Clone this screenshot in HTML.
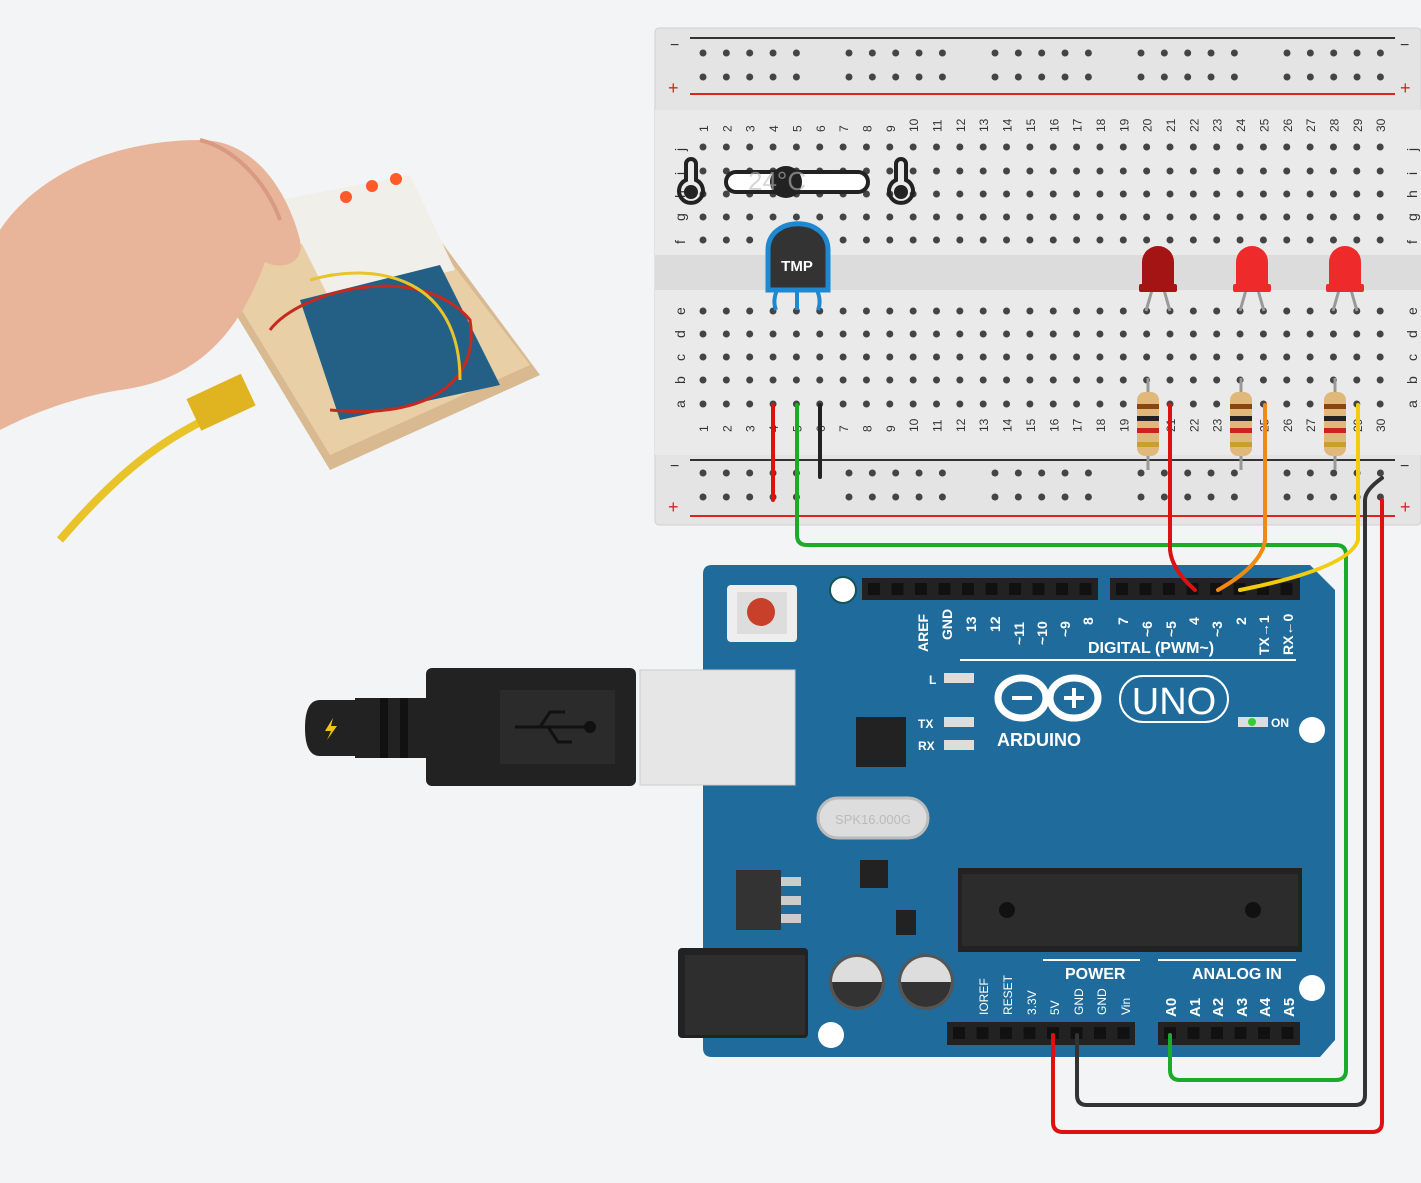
<!DOCTYPE html>
<html><head><meta charset="utf-8"><style>
html,body{margin:0;padding:0;background:#f3f4f6;}
svg{display:block;font-family:"Liberation Sans",sans-serif;}
</style></head><body>
<svg id="s" width="1421" height="1183" viewBox="0 0 1421 1183" xmlns="http://www.w3.org/2000/svg">
<rect width="1421" height="1183" fill="#f3f4f6"/>
<!-- photo approximation -->
<g>
<polygon points="200,255 440,240 540,375 330,470" fill="#d9b98f"/>
<polygon points="205,250 430,235 530,365 330,455" fill="#e8cfa6"/>
<polygon points="280,200 410,175 455,270 330,300" fill="#f0efe9"/>
<polygon points="300,300 440,265 500,385 340,420" fill="#245f86"/>
<path d="M60,540 C120,470 170,430 250,400" stroke="#e8c42a" stroke-width="8" fill="none"/>
<rect x="190" y="385" width="60" height="35" fill="#e0b320" transform="rotate(-25 220 400)"/>
<path d="M270,330 C300,290 420,260 470,320 C480,380 430,420 330,410" stroke="#c62a1e" stroke-width="3" fill="none"/>
<path d="M310,280 C380,260 460,280 460,380" stroke="#e8c42a" stroke-width="3" fill="none"/>
<circle cx="346" cy="197" r="6" fill="#ff5a2a"/><circle cx="372" cy="186" r="6" fill="#ff5a2a"/><circle cx="396" cy="179" r="6" fill="#ff5a2a"/>
<path d="M0,230 C40,170 120,140 200,140 C260,140 290,200 300,240 C305,265 280,270 265,262 C240,330 200,380 120,390 C60,400 20,420 0,430 Z" fill="#e9b59a"/>
<path d="M200,140 C240,150 270,190 280,220" stroke="#d89a80" stroke-width="4" fill="none"/>
</g>
<!-- breadboard -->
<rect x="655" y="28" width="766" height="497" rx="4" fill="#e4e4e4" stroke="#d0d0d0"/>
<rect x="655" y="110" width="766" height="345" fill="#eaeaea"/>
<rect x="655" y="255" width="766" height="35" fill="#dcdcdc"/>
<line x1="690" y1="38" x2="1395" y2="38" stroke="#333" stroke-width="2"/>
<line x1="690" y1="94" x2="1395" y2="94" stroke="#d22" stroke-width="2"/>
<line x1="690" y1="460" x2="1395" y2="460" stroke="#333" stroke-width="2"/>
<line x1="690" y1="516" x2="1395" y2="516" stroke="#d22" stroke-width="2"/>
<text x="670" y="50" font-size="16" fill="#333">−</text><text x="668" y="94" font-size="18" fill="#d22">+</text>
<text x="1400" y="50" font-size="16" fill="#333">−</text><text x="1400" y="94" font-size="18" fill="#d22">+</text>
<text x="670" y="471" font-size="16" fill="#333">−</text><text x="668" y="513" font-size="18" fill="#d22">+</text>
<text x="1400" y="471" font-size="16" fill="#333">−</text><text x="1400" y="513" font-size="18" fill="#d22">+</text>
<g id="holes"></g>
<!-- temp slider -->
<rect x="726" y="172" width="142" height="20" rx="10" fill="#fff" stroke="#222" stroke-width="4"/>
<circle cx="786" cy="182" r="16" fill="#222"/>
<text x="748" y="190" font-size="26" fill="#bbb" opacity="0.6">24°C</text>
<g fill="none" stroke="#222" stroke-width="4"><path d="M686,180 V164 a5,5 0 0 1 10,0 V180 a12,12 0 1 1 -10,0 Z"/><path d="M896,180 V164 a5,5 0 0 1 10,0 V180 a12,12 0 1 1 -10,0 Z"/></g>
<circle cx="691" cy="192" r="7" fill="#222"/><circle cx="901" cy="192" r="7" fill="#222"/>
<!-- TMP -->
<g stroke="#1e88d0" stroke-width="4" fill="none"><path d="M778,288 Q772,300 776,310"/><path d="M797,288 V310"/><path d="M816,288 Q822,300 818,310"/></g>
<path d="M768,250 C768,215 828,215 828,250 V290 H768 Z" fill="#333" stroke="#1e88d0" stroke-width="5"/>
<text x="797" y="271" font-size="15" fill="#fff" text-anchor="middle" font-weight="bold">TMP</text>
<!-- LEDs -->
<g id="leds"></g>
<!-- arduino -->
<path d="M712,565 H1310 L1335,590 V1040 L1320,1057 H712 Q703,1057 703,1048 V574 Q703,565 712,565 Z" fill="#1f6c9c"/>
<circle cx="843" cy="590" r="13" fill="#fff" stroke="#155" stroke-width="2"/>
<circle cx="1312" cy="730" r="13" fill="#fff"/><circle cx="1312" cy="988" r="13" fill="#fff"/><circle cx="831" cy="1035" r="13" fill="#fff"/>
<rect x="727" y="585" width="70" height="57" rx="4" fill="#eee"/><rect x="737" y="592" width="50" height="42" fill="#ddd"/><circle cx="761" cy="612" r="14" fill="#c8402a"/>
<rect x="862" y="578" width="236" height="22" fill="#222"/><rect x="1110" y="578" width="190" height="22" fill="#222"/>
<rect x="947" y="1022" width="188" height="23" fill="#222"/><rect x="1158" y="1022" width="142" height="23" fill="#222"/>
<g id="pins"></g>
<g fill="#fff" font-size="14" font-weight="bold">
<text transform="translate(928,652) rotate(-90)">AREF</text>
<text transform="translate(952,640) rotate(-90)">GND</text>
<text transform="translate(976,632) rotate(-90)">13</text>
<text transform="translate(1000,632) rotate(-90)">12</text>
<text transform="translate(1024,645) rotate(-90)">~11</text>
<text transform="translate(1047,645) rotate(-90)">~10</text>
<text transform="translate(1070,637) rotate(-90)">~9</text>
<text transform="translate(1093,625) rotate(-90)">8</text>
<text transform="translate(1128,625) rotate(-90)">7</text>
<text transform="translate(1152,637) rotate(-90)">~6</text>
<text transform="translate(1176,637) rotate(-90)">~5</text>
<text transform="translate(1199,625) rotate(-90)">4</text>
<text transform="translate(1222,637) rotate(-90)">~3</text>
<text transform="translate(1246,625) rotate(-90)">2</text>
<text transform="translate(1269,655) rotate(-90)">TX→1</text>
<text transform="translate(1293,655) rotate(-90)">RX←0</text>
<text x="1088" y="653" font-size="16">DIGITAL (PWM~)</text>
<text x="997" y="746" font-size="18">ARDUINO</text>
<text x="929" y="684" font-size="12">L</text><text x="918" y="728" font-size="12">TX</text><text x="918" y="750" font-size="12">RX</text>
<text x="1271" y="727" font-size="12">ON</text>
<text x="1065" y="979" font-size="16">POWER</text><text x="1192" y="979" font-size="16">ANALOG IN</text>
</g>
<line x1="960" y1="660" x2="1296" y2="660" stroke="#fff" stroke-width="2"/>
<line x1="1043" y1="960" x2="1140" y2="960" stroke="#fff" stroke-width="2"/>
<line x1="1158" y1="960" x2="1296" y2="960" stroke="#fff" stroke-width="2"/>
<g fill="#fff" font-size="12">
<text transform="translate(988,1015) rotate(-90)">IOREF</text>
<text transform="translate(1012,1015) rotate(-90)">RESET</text>
<text transform="translate(1036,1015) rotate(-90)">3.3V</text>
<text transform="translate(1059,1015) rotate(-90)">5V</text>
<text transform="translate(1083,1015) rotate(-90)">GND</text>
<text transform="translate(1106,1015) rotate(-90)">GND</text>
<text transform="translate(1130,1015) rotate(-90)">Vin</text>
</g>
<g fill="#fff" font-size="15" font-weight="bold">
<text transform="translate(1176,1017) rotate(-90)">A0</text><text transform="translate(1200,1017) rotate(-90)">A1</text><text transform="translate(1223,1017) rotate(-90)">A2</text>
<text transform="translate(1247,1017) rotate(-90)">A3</text><text transform="translate(1270,1017) rotate(-90)">A4</text><text transform="translate(1294,1017) rotate(-90)">A5</text>
</g>
<!-- logo -->
<g fill="none" stroke="#fff" stroke-width="7"><ellipse cx="1022" cy="698" rx="24" ry="20"/><ellipse cx="1074" cy="698" rx="24" ry="20"/></g>
<rect x="1012" y="696" width="20" height="4" fill="#fff"/><rect x="1064" y="696" width="20" height="4" fill="#fff"/><rect x="1072" y="688" width="4" height="20" fill="#fff"/>
<rect x="1120" y="676" width="108" height="46" rx="23" fill="none" stroke="#fff" stroke-width="2"/>
<text x="1174" y="714" font-size="38" fill="#fff" text-anchor="middle">UNO</text>
<rect x="944" y="673" width="30" height="10" fill="#ddd"/><rect x="944" y="717" width="30" height="10" fill="#ddd"/><rect x="944" y="740" width="30" height="10" fill="#ddd"/>
<rect x="1238" y="717" width="30" height="10" fill="#ddd"/><circle cx="1252" cy="722" r="4" fill="#3c3"/>
<rect x="856" y="717" width="50" height="50" fill="#222"/>
<rect x="818" y="798" width="110" height="40" rx="20" fill="#ddd" stroke="#bbb" stroke-width="3"/>
<text x="873" y="824" font-size="13" fill="#bbb" text-anchor="middle">SPK16.000G</text>
<rect x="860" y="860" width="28" height="28" fill="#222"/>
<rect x="736" y="870" width="45" height="60" fill="#333"/><rect x="781" y="877" width="20" height="9" fill="#ccc"/><rect x="781" y="896" width="20" height="9" fill="#ccc"/><rect x="781" y="914" width="20" height="9" fill="#ccc"/>
<rect x="896" y="910" width="20" height="25" fill="#222"/>
<rect x="958" y="868" width="344" height="84" fill="#222"/><rect x="962" y="874" width="336" height="72" fill="#2c2c2c"/>
<circle cx="1007" cy="910" r="8" fill="#111"/><circle cx="1253" cy="910" r="8" fill="#111"/>
<rect x="678" y="948" width="130" height="90" rx="4" fill="#222"/><rect x="685" y="955" width="120" height="80" fill="#2e2e2e"/>
<circle cx="857" cy="982" r="28" fill="#555"/><circle cx="857" cy="982" r="25" fill="#ddd"/><path d="M832,982 A25,25 0 0 0 882,982 Z" fill="#333"/>
<circle cx="926" cy="982" r="28" fill="#555"/><circle cx="926" cy="982" r="25" fill="#ddd"/><path d="M901,982 A25,25 0 0 0 951,982 Z" fill="#333"/>
<!-- USB -->
<rect x="640" y="670" width="155" height="115" fill="#e6e6e6"/><rect x="640" y="670" width="155" height="115" fill="none" stroke="#ccc"/>
<rect x="426" y="668" width="210" height="118" rx="6" fill="#222"/>
<rect x="500" y="690" width="115" height="74" fill="#2b2b2b"/>
<g stroke="#111" stroke-width="3" fill="none"><line x1="515" y1="727" x2="590" y2="727"/><path d="M540,727 L550,712 H565"/><path d="M548,727 L558,742 H572"/></g>
<circle cx="590" cy="727" r="6" fill="#111"/>
<rect x="355" y="698" width="75" height="60" fill="#222"/>
<rect x="380" y="698" width="8" height="60" fill="#111"/><rect x="400" y="698" width="8" height="60" fill="#111"/>
<path d="M360,700 H320 Q305,700 305,728 Q305,756 320,756 H360 Z" fill="#222"/>
<path d="M333,718 L325,731 H331 L327,740 L337,726 H331 Z" fill="#f2c21b"/>
<!-- wires -->
<g fill="none" stroke-width="4" stroke-linejoin="round" stroke-linecap="round">
<path d="M773,405 V500" stroke="#d11"/>
<path d="M820,405 V477" stroke="#222"/>
<path d="M797,405 V535 Q797,545 807,545 H1336 Q1346,545 1346,555 V1070 Q1346,1080 1336,1080 H1180 Q1170,1080 1170,1070 V1035" stroke="#1aab2a"/>
<path d="M1053,1035 V1122 Q1053,1132 1063,1132 H1372 Q1382,1132 1382,1122 V500" stroke="#d11"/>
<path d="M1077,1035 V1095 Q1077,1105 1087,1105 H1355 Q1365,1105 1365,1095 V500 Q1365,490 1382,478" stroke="#333"/>
<path d="M1170,405 V550 Q1172,570 1195,590" stroke="#d11"/>
<path d="M1265,405 V540 Q1262,565 1218,590" stroke="#f08a10"/>
<path d="M1358,405 V540 Q1350,568 1240,590" stroke="#f2cc10"/>
</g>
<g id="res"></g>
</svg>
<script>
var NS="http://www.w3.org/2000/svg";
function el(p,t,a){var e=document.createElementNS(NS,t);for(var k in a)e.setAttribute(k,a[k]);p.appendChild(e);return e;}
var H=document.getElementById("holes");
function cx(c){return 703+(c-1)*23.35;}
var rows=[147,171,194,217,240,311,334,357,380,404];
for(var c=1;c<=30;c++){for(var r=0;r<10;r++){el(H,"circle",{cx:cx(c),cy:rows[r],r:3.5,fill:"#444"});}
 var t=el(H,"text",{transform:"translate("+(cx(c)+5)+",132) rotate(-90)","font-size":"12",fill:"#333"});t.textContent=c;
 var t2=el(H,"text",{transform:"translate("+(cx(c)+5)+",432) rotate(-90)","font-size":"12",fill:"#333"});t2.textContent=c;}
var L="jihgf",L2="edcba";
for(var i=0;i<5;i++){[[680,rows[i]],[1412,rows[i]]].forEach(function(p){var t=el(H,"text",{transform:"translate("+(p[0]+5)+","+(p[1]+4)+") rotate(-90)","font-size":"14",fill:"#333"});t.textContent=L[i];});
 [[680,rows[5+i]],[1412,rows[5+i]]].forEach(function(p){var t=el(H,"text",{transform:"translate("+(p[0]+5)+","+(p[1]+4)+") rotate(-90)","font-size":"14",fill:"#333"});t.textContent=L2[i];});}
for(var g=0;g<5;g++)for(var k=0;k<5;k++){var x=703+g*146+k*23.35;[53,77,473,497].forEach(function(y){el(H,"circle",{cx:x,cy:y,r:3.5,fill:"#444"});});}
var LE=document.getElementById("leds");
[[1158,"#a51414"],[1252,"#ee2a2a"],[1345,"#ee2a2a"]].forEach(function(d){var x=d[0];
 el(LE,"line",{x1:x-6,y1:290,x2:x-12,y2:311,stroke:"#999","stroke-width":3});el(LE,"line",{x1:x+6,y1:290,x2:x+12,y2:311,stroke:"#999","stroke-width":3});
 el(LE,"path",{d:"M"+(x-16)+",290 V262 a16,16 0 0 1 32,0 V290 Z",fill:d[1]});el(LE,"rect",{x:x-19,y:284,width:38,height:8,rx:2,fill:d[1]});});
var R=document.getElementById("res");
[1148,1241,1335].forEach(function(x){el(R,"line",{x1:x,y1:378,x2:x,y2:470,stroke:"#999","stroke-width":3});
 el(R,"rect",{x:x-11,y:392,width:22,height:64,rx:8,fill:"#e0b87a"});
 [[404,"#8b4513"],[416,"#222"],[428,"#c22"],[442,"#c9a030"]].forEach(function(b){el(R,"rect",{x:x-11,y:b[0],width:22,height:5,fill:b[1]});});});
var P=document.getElementById("pins");
function pins(x0,x1,y){for(var x=x0+6;x<x1-4;x+=23.5){el(P,"rect",{x:x,y:y+5,width:12,height:12,fill:"#111"});}}
pins(862,1098,578);pins(1110,1300,578);pins(947,1135,1022);pins(1158,1300,1022);
</script>
</body></html>
